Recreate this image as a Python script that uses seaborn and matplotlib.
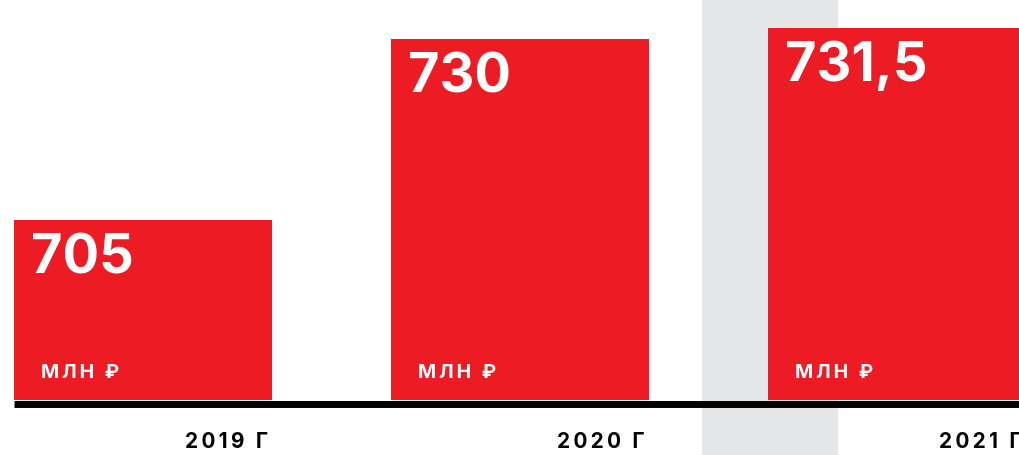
import matplotlib.pyplot as plt
import pandas as pd
import seaborn as sns

years = ['2019 Г', '2020 Г', '2021 Г']
values = [705, 730, 731.5]
value_labels = ['705', '730', '731,5']
unit = 'МЛН ₽'

RED = '#ed1c24'
GRAY = '#e5e6e8'
BAR_W = 0.684
THIN = '\u2009'


def spaced(s):
    return THIN.join(s)


sns.set_style('white')
plt.rcParams['font.family'] = ['Inter', 'Liberation Sans', 'DejaVu Sans']

df = pd.DataFrame({'Year': years, 'Value': values})

fig = plt.figure(figsize=(10.2, 4.55), dpi=100)
ax = fig.add_axes([0, 55 / 455, 1, 400 / 455])

# highlighted current year band, runs down past the baseline
ax.axvspan(1.483, 1.844, ymin=-0.1375, ymax=1, color=GRAY, zorder=0, clip_on=False, lw=0)

sns.barplot(data=df, x='Year', y='Value', color=RED, width=BAR_W, saturation=1, ax=ax,
            zorder=2, edgecolor=RED, linewidth=0)

ax.set_xlim(-0.379, 2.326)
ax.set_ylim(680.2, 735.4)
ax.axis('off')

for i, (v, lab, yr) in enumerate(zip(values, value_labels, years)):
    ax.annotate(lab, xy=(i - BAR_W / 2, v), xytext=(12.2, -9.5), textcoords='offset points',
                ha='left', va='top', color='white', fontsize=39, fontweight='bold', zorder=3)
    ax.annotate(spaced(unit), xy=(i - BAR_W / 2, 0.055), xycoords=ax.get_xaxis_transform(),
                xytext=(19.4, 0), textcoords='offset points',
                ha='left', va='baseline', color='white', fontsize=14, fontweight='bold', zorder=3)
    ax.annotate(spaced(yr), xy=(i + BAR_W / 2, 0), xycoords=ax.get_xaxis_transform(),
                xytext=(-3, -30.5), textcoords='offset points', annotation_clip=False,
                ha='right', va='center', color='black', fontsize=15, fontweight='bold')

# thick black baseline
fig.add_artist(plt.Line2D([14 / 1020, 1], [(455 - 403.5) / 455] * 2, color='black', lw=5.0,
                          transform=fig.transFigure, solid_capstyle='butt'))

fig.savefig('out.png', dpi=100)
